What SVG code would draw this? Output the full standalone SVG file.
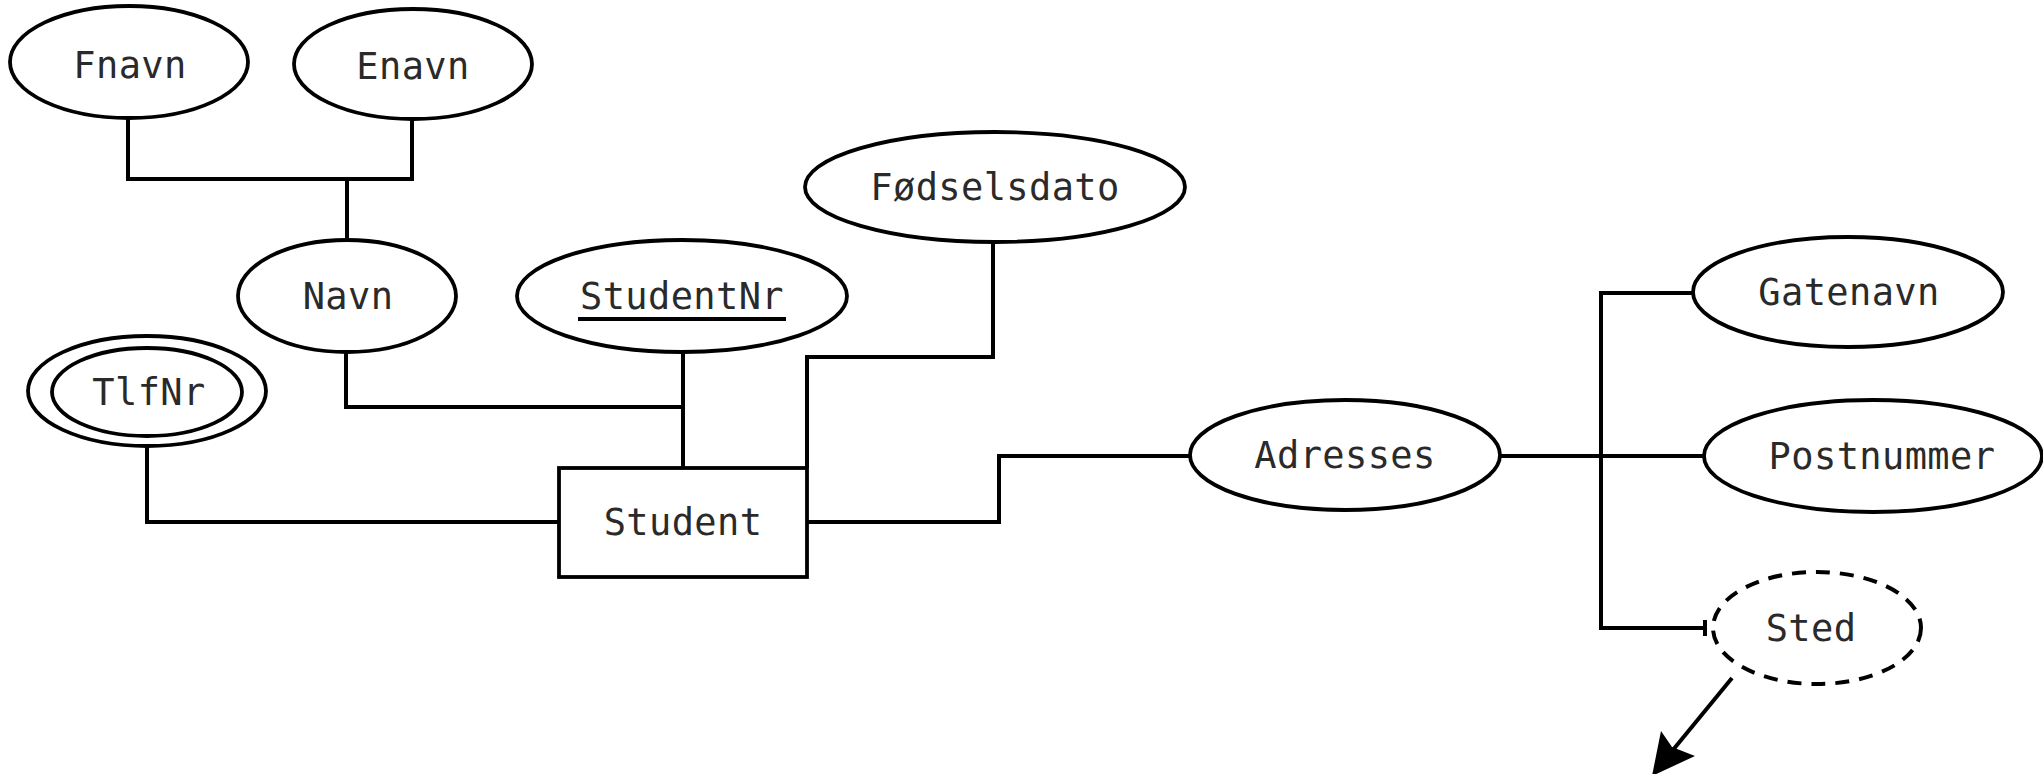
<svg xmlns="http://www.w3.org/2000/svg" width="2043" height="774" viewBox="0 0 2043 774">
<style>
.shape{fill:#fff;stroke:#000;stroke-width:3.8}
.dashed{fill:#fff;stroke:#000;stroke-width:4;stroke-dasharray:14 10}
.conn{fill:none;stroke:#000;stroke-width:4}
text{font-family:"DejaVu Sans Mono","Liberation Mono",monospace;font-size:37px;fill:#2a2a2a;text-anchor:middle;letter-spacing:0.4px}
</style>
<rect width="2043" height="774" fill="#fff"/>
<g id="connectors">
<polyline class="conn" points="128,118 128,179 412,179 412,119"/>
<line class="conn" x1="347" y1="179" x2="347" y2="240"/>
<polyline class="conn" points="346,352 346,407 683,407"/>
<line class="conn" x1="683" y1="352" x2="683" y2="468"/>
<polyline class="conn" points="807,468 807,357 993,357 993,242"/>
<polyline class="conn" points="147,447 147,522 559,522"/>
<polyline class="conn" points="807,522 999,522 999,456 1190,456"/>
<line class="conn" x1="1499" y1="456" x2="1703" y2="456"/>
<polyline class="conn" points="1693,293 1601,293 1601,628 1705,628"/>
<line class="conn" x1="1705" y1="620" x2="1705" y2="636"/>
<line class="conn" x1="1732" y1="678" x2="1668" y2="756"/>
<polygon points="1652,776 1661,731 1672,747 1695,756" fill="#000"/>
</g>
<g id="node-fnavn"><ellipse class="shape" cx="129" cy="62" rx="119" ry="56"/><text x="130" y="78">Fnavn</text></g>
<g id="node-enavn"><ellipse class="shape" cx="413" cy="64" rx="119" ry="55"/><text x="413" y="79">Enavn</text></g>
<g id="node-navn"><ellipse class="shape" cx="347" cy="296" rx="109" ry="56"/><text x="348" y="309">Navn</text></g>
<g id="node-studentnr"><ellipse class="shape" cx="682" cy="296" rx="165" ry="56"/><text x="682" y="309">StudentNr</text><line x1="578" y1="319" x2="786" y2="319" stroke="#000" stroke-width="4"/></g>
<g id="node-fodselsdato"><ellipse class="shape" cx="995" cy="187" rx="190" ry="55"/><text x="995" y="200">Fødselsdato</text></g>
<g id="node-tlfnr"><ellipse class="shape" cx="147" cy="391" rx="119" ry="55"/><ellipse class="shape" cx="147" cy="392" rx="95" ry="44"/><text x="149" y="405">TlfNr</text></g>
<g id="node-student"><rect class="shape" x="559" y="468" width="248" height="109"/><text x="683" y="535">Student</text></g>
<g id="node-adresses"><ellipse class="shape" cx="1345" cy="455" rx="155" ry="55"/><text x="1345" y="468">Adresses</text></g>
<g id="node-gatenavn"><ellipse class="shape" cx="1848" cy="292" rx="155" ry="55"/><text x="1849" y="305">Gatenavn</text></g>
<g id="node-postnummer"><ellipse class="shape" cx="1873" cy="456" rx="169" ry="56"/><text x="1882" y="469">Postnummer</text></g>
<g id="node-sted"><ellipse class="dashed" cx="1817" cy="628" rx="104" ry="56"/><text x="1811" y="641">Sted</text></g>
</svg>
